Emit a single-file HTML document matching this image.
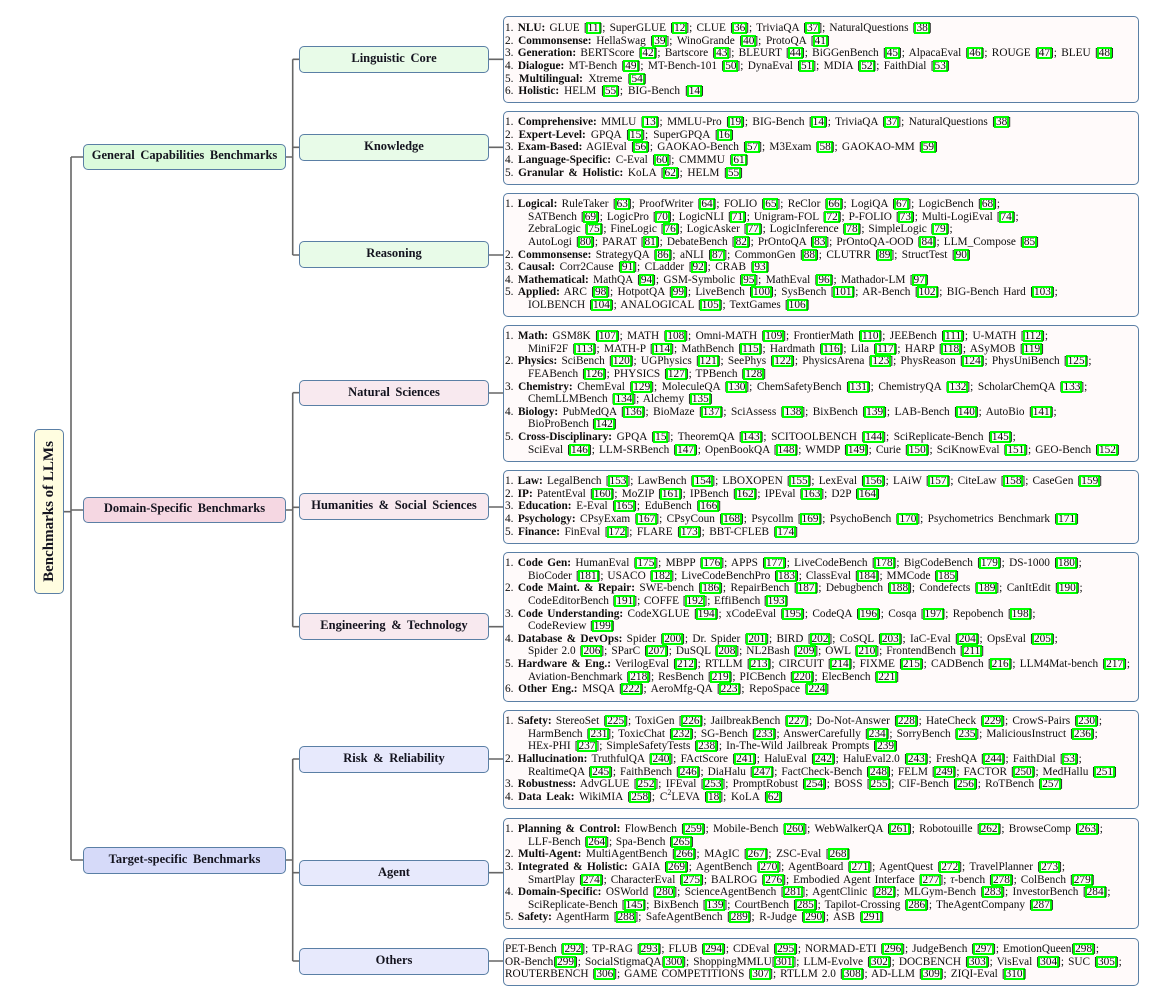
<!DOCTYPE html>
<html><head><meta charset="utf-8"><title>Benchmarks of LLMs</title>
<style>
html,body{margin:0;padding:0;background:#fff;width:1167px;height:1006px;overflow:hidden}
#w{position:relative;width:1167px;height:1006px;font-family:"Liberation Serif","DejaVu Serif",serif;color:#0c0c0c;filter:blur(.35px)}
.n{position:absolute;box-sizing:border-box;border:1.6px solid #5a7fa5;border-radius:5px;display:flex;align-items:center;justify-content:center;font-weight:bold;font-size:12.5px;word-spacing:2.5px;color:#14141f;padding-bottom:2px}
.a{left:83px;width:203px}.b{left:299px;width:190px}
.g1{background:#dbfbdc}.g2{background:#e8fbe8}.p1{background:#f5d7e2}.p2{background:#f8e9ef}.v1{background:#d6daf9}.v2{background:#e7e9fc}
.x{position:absolute;left:502.5px;width:636.5px;box-sizing:border-box;border:1.6px solid #5a7fa5;border-radius:5px;background:#fffafa}
.t{position:absolute;left:505px;font-size:11.3px}
p{margin:0;height:12.65px;line-height:12.65px;white-space:nowrap;text-align:justify;text-align-last:justify}
p.c{margin-left:23px}
u{text-decoration:none;display:inline-block;height:8px;line-height:8px;outline:2px solid #0f0;outline-offset:.7px}
sup{font-size:8px;line-height:0}
svg{position:absolute;left:0;top:0}
</style></head><body><div id="w">
<svg width="1167" height="1006" fill="none" stroke="#666" stroke-width="1.6">
<path d="M64 511.7H71M71 157V860M71 157H83M71 510H83M71 860H83"/>
<path d="M286 157H292.7M292.7 59.3V255M292.7 59.3H299M292.7 147.3H299M292.7 255H299"/>
<path d="M286 510H292.7M292.7 392.7V626.7M292.7 392.7H299M292.7 507.3H299M292.7 626.7H299"/>
<path d="M286 860H292.7M292.7 759V961M292.7 759H299M292.7 872.7H299M292.7 961H299"/>
<path d="M489 59.3H503M489 147.3H503M489 255H503M489 393H503M489 507H503M489 626.7H503M489 759H503M489 872.7H503M489 961H503"/>
</svg>

<div class="n" style="left:34px;top:429px;width:30px;height:165px;background:#fffde0;padding:0"><span style="transform:rotate(-90deg);white-space:nowrap;font-size:15px;word-spacing:0">Benchmarks of LLMs</span></div>

<div class="n a g1" style="top:143.7px;height:26.6px">General Capabilities Benchmarks</div>
<div class="n a p1" style="top:496.7px;height:26.6px">Domain-Specific Benchmarks</div>
<div class="n a v1" style="top:846.7px;height:27px">Target-specific Benchmarks</div>

<div class="n b g2" style="top:45.7px;height:27px">Linguistic Core</div>
<div class="n b g2" style="top:134px;height:26.7px">Knowledge</div>
<div class="n b g2" style="top:241px;height:27px">Reasoning</div>
<div class="n b p2" style="top:379.7px;height:26.7px">Natural Sciences</div>
<div class="n b p2" style="top:493.3px;height:26.7px">Humanities &amp; Social Sciences</div>
<div class="n b p2" style="top:613px;height:26.5px">Engineering &amp; Technology</div>
<div class="n b v2" style="top:745.7px;height:27px">Risk &amp; Reliability</div>
<div class="n b v2" style="top:859.7px;height:26.7px">Agent</div>
<div class="n b v2" style="top:948px;height:26.7px">Others</div>

<div class="x" style="top:16px;height:86.5px"></div>
<div class="x" style="top:111px;height:73.5px"></div>
<div class="x" style="top:193px;height:124px"></div>
<div class="x" style="top:325px;height:137px"></div>
<div class="x" style="top:470px;height:74px"></div>
<div class="x" style="top:552px;height:150px"></div>
<div class="x" style="top:710px;height:99px"></div>
<div class="x" style="top:818px;height:111px"></div>
<div class="x" style="top:938px;height:48px"></div>

<div class="t" style="top:22px">
<p style="width:426.5px">1. <b>NLU:</b> GLUE [<u>11</u>]; SuperGLUE [<u>12</u>]; CLUE [<u>36</u>]; TriviaQA [<u>37</u>]; NaturalQuestions [<u>38</u>]</p>
<p style="width:324.6px">2. <b>Commonsense:</b> HellaSwag [<u>39</u>]; WinoGrande [<u>40</u>]; ProtoQA [<u>41</u>]</p>
<p style="width:608.8px">3. <b>Generation:</b> BERTScore [<u>42</u>]; Bartscore [<u>43</u>]; BLEURT [<u>44</u>]; BiGGenBench [<u>45</u>]; AlpacaEval [<u>46</u>]; ROUGE [<u>47</u>]; BLEU [<u>48</u>]</p>
<p style="width:444.6px">4. <b>Dialogue:</b> MT-Bench [<u>49</u>]; MT-Bench-101 [<u>50</u>]; DynaEval [<u>51</u>]; MDIA [<u>52</u>]; FaithDial [<u>53</u>]</p>
<p style="width:141.5px">5. <b>Multilingual:</b> Xtreme [<u>54</u>]</p>
<p style="width:198.8px">6. <b>Holistic:</b> HELM [<u>55</u>]; BIG-Bench [<u>14</u>]</p>
</div>

<div class="t" style="top:116px">
<p style="width:506px">1. <b>Comprehensive:</b> MMLU [<u>13</u>]; MMLU-Pro [<u>19</u>]; BIG-Bench [<u>14</u>]; TriviaQA [<u>37</u>]; NaturalQuestions [<u>38</u>]</p>
<p style="width:228.7px">2. <b>Expert-Level:</b> GPQA [<u>15</u>]; SuperGPQA [<u>16</u>]</p>
<p style="width:432.8px">3. <b>Exam-Based:</b> AGIEval [<u>56</u>]; GAOKAO-Bench [<u>57</u>]; M3Exam [<u>58</u>]; GAOKAO-MM [<u>59</u>]</p>
<p style="width:243.4px">4. <b>Language-Specific:</b> C-Eval [<u>60</u>]; CMMMU [<u>61</u>]</p>
<p style="width:237.9px">5. <b>Granular &amp; Holistic:</b> KoLA [<u>62</u>]; HELM [<u>55</u>]</p>
</div>

<div class="t" style="top:198px">
<p style="width:495px">1. <b>Logical:</b> RuleTaker [<u>63</u>]; ProofWriter [<u>64</u>]; FOLIO [<u>65</u>]; ReClor [<u>66</u>]; LogiQA [<u>67</u>]; LogicBench [<u>68</u>];</p>
<p class="c" style="width:490.7px">SATBench [<u>69</u>]; LogicPro [<u>70</u>]; LogicNLI [<u>71</u>]; Unigram-FOL [<u>72</u>]; P-FOLIO [<u>73</u>]; Multi-LogiEval [<u>74</u>];</p>
<p class="c" style="width:424.6px">ZebraLogic [<u>75</u>]; FineLogic [<u>76</u>]; LogicAsker [<u>77</u>]; LogicInference [<u>78</u>]; SimpleLogic [<u>79</u>];</p>
<p class="c" style="width:510.9px">AutoLogi [<u>80</u>]; PARAT [<u>81</u>]; DebateBench [<u>82</u>]; PrOntoQA [<u>83</u>]; PrOntoQA-OOD [<u>84</u>]; LLM_Compose [<u>85</u>]</p>
<p style="width:465.7px">2. <b>Commonsense:</b> StrategyQA [<u>86</u>]; aNLI [<u>87</u>]; CommonGen [<u>88</u>]; CLUTRR [<u>89</u>]; StructTest [<u>90</u>]</p>
<p style="width:264.4px">3. <b>Causal:</b> Corr2Cause [<u>91</u>]; CLadder [<u>92</u>]; CRAB [<u>93</u>]</p>
<p style="width:423.6px">4. <b>Mathematical:</b> MathQA [<u>94</u>]; GSM-Symbolic [<u>95</u>]; MathEval [<u>96</u>]; Mathador-LM [<u>97</u>]</p>
<p style="width:552.8px">5. <b>Applied:</b> ARC [<u>98</u>]; HotpotQA [<u>99</u>]; LiveBench [<u>100</u>]; SysBench [<u>101</u>]; AR-Bench [<u>102</u>]; BIG-Bench Hard [<u>103</u>];</p>
<p class="c" style="width:281.4px">IOLBENCH [<u>104</u>]; ANALOGICAL [<u>105</u>]; TextGames [<u>106</u>]</p>
</div>

<div class="t" style="top:330px">
<p style="width:543px">1. <b>Math:</b> GSM8K [<u>107</u>]; MATH [<u>108</u>]; Omni-MATH [<u>109</u>]; FrontierMath [<u>110</u>]; JEEBench [<u>111</u>]; U-MATH [<u>112</u>];</p>
<p class="c" style="width:515.9px">MiniF2F [<u>113</u>]; MATH-P [<u>114</u>]; MathBench [<u>115</u>]; Hardmath [<u>116</u>]; Lila [<u>117</u>]; HARP [<u>118</u>]; ASyMOB [<u>119</u>]</p>
<p style="width:586.5px">2. <b>Physics:</b> SciBench [<u>120</u>]; UGPhysics [<u>121</u>]; SeePhys [<u>122</u>]; PhysicsArena [<u>123</u>]; PhysReason [<u>124</u>]; PhysUniBench [<u>125</u>];</p>
<p class="c" style="width:238px">FEABench [<u>126</u>]; PHYSICS [<u>127</u>]; TPBench [<u>128</u>]</p>
<p style="width:582.3px">3. <b>Chemistry:</b> ChemEval [<u>129</u>]; MoleculeQA [<u>130</u>]; ChemSafetyBench [<u>131</u>]; ChemistryQA [<u>132</u>]; ScholarChemQA [<u>133</u>];</p>
<p class="c" style="width:184.6px">ChemLLMBench [<u>134</u>]; Alchemy [<u>135</u>]</p>
<p style="width:551.6px">4. <b>Biology:</b> PubMedQA [<u>136</u>]; BioMaze [<u>137</u>]; SciAssess [<u>138</u>]; BixBench [<u>139</u>]; LAB-Bench [<u>140</u>]; AutoBio [<u>141</u>];</p>
<p class="c" style="width:88.6px">BioProBench [<u>142</u>]</p>
<p style="width:510.7px">5. <b>Cross-Disciplinary:</b> GPQA [<u>15</u>]; TheoremQA [<u>143</u>]; SCITOOLBENCH [<u>144</u>]; SciReplicate-Bench [<u>145</u>];</p>
<p class="c" style="width:591.7px">SciEval [<u>146</u>]; LLM-SRBench [<u>147</u>]; OpenBookQA [<u>148</u>]; WMDP [<u>149</u>]; Curie [<u>150</u>]; SciKnowEval [<u>151</u>]; GEO-Bench [<u>152</u>]</p>
</div>

<div class="t" style="top:475px">
<p style="width:597px">1. <b>Law:</b> LegalBench [<u>153</u>]; LawBench [<u>154</u>]; LBOXOPEN [<u>155</u>]; LexEval [<u>156</u>]; LAiW [<u>157</u>]; CiteLaw [<u>158</u>]; CaseGen [<u>159</u>]</p>
<p style="width:374.7px">2. <b>IP:</b> PatentEval [<u>160</u>]; MoZIP [<u>161</u>]; IPBench [<u>162</u>]; IPEval [<u>163</u>]; D2P [<u>164</u>]</p>
<p style="width:216px">3. <b>Education:</b> E-Eval [<u>165</u>]; EduBench [<u>166</u>]</p>
<p style="width:573.9px">4. <b>Psychology:</b> CPsyExam [<u>167</u>]; CPsyCoun [<u>168</u>]; Psycollm [<u>169</u>]; PsychoBench [<u>170</u>]; Psychometrics Benchmark [<u>171</u>]</p>
<p style="width:293px">5. <b>Finance:</b> FinEval [<u>172</u>]; FLARE [<u>173</u>]; BBT-CFLEB [<u>174</u>]</p>
</div>

<div class="t" style="top:557px">
<p style="width:576.8px">1. <b>Code Gen:</b> HumanEval [<u>175</u>]; MBPP [<u>176</u>]; APPS [<u>177</u>]; LiveCodeBench [<u>178</u>]; BigCodeBench [<u>179</u>]; DS-1000 [<u>180</u>];</p>
<p class="c" style="width:430.9px">BioCoder [<u>181</u>]; USACO [<u>182</u>]; LiveCodeBenchPro [<u>183</u>]; ClassEval [<u>184</u>]; MMCode [<u>185</u>]</p>
<p style="width:577.7px">2. <b>Code Maint. &amp; Repair:</b> SWE-bench [<u>186</u>]; RepairBench [<u>187</u>]; Debugbench [<u>188</u>]; Condefects [<u>189</u>]; CanItEdit [<u>190</u>];</p>
<p class="c" style="width:260.4px">CodeEditorBench [<u>191</u>]; COFFE [<u>192</u>]; EffiBench [<u>193</u>]</p>
<p style="width:530.5px">3. <b>Code Understanding:</b> CodeXGLUE [<u>194</u>]; xCodeEval [<u>195</u>]; CodeQA [<u>196</u>]; Cosqa [<u>197</u>]; Repobench [<u>198</u>];</p>
<p class="c" style="width:86.5px">CodeReview [<u>199</u>]</p>
<p style="width:552.8px">4. <b>Database &amp; DevOps:</b> Spider [<u>200</u>]; Dr. Spider [<u>201</u>]; BIRD [<u>202</u>]; CoSQL [<u>203</u>]; IaC-Eval [<u>204</u>]; OpsEval [<u>205</u>];</p>
<p class="c" style="width:456px">Spider 2.0 [<u>206</u>]; SParC [<u>207</u>]; DuSQL [<u>208</u>]; NL2Bash [<u>209</u>]; OWL [<u>210</u>]; FrontendBench [<u>211</u>]</p>
<p style="width:625px">5. <b>Hardware &amp; Eng.:</b> VerilogEval [<u>212</u>]; RTLLM [<u>213</u>]; CIRCUIT [<u>214</u>]; FIXME [<u>215</u>]; CADBench [<u>216</u>]; LLM4Mat-bench [<u>217</u>];</p>
<p class="c" style="width:371px">Aviation-Benchmark [<u>218</u>]; ResBench [<u>219</u>]; PICBench [<u>220</u>]; ElecBench [<u>221</u>]</p>
<p style="width:324.2px">6. <b>Other Eng.:</b> MSQA [<u>222</u>]; AeroMfg-QA [<u>223</u>]; RepoSpace [<u>224</u>]</p>
</div>

<div class="t" style="top:715px">
<p style="width:597px">1. <b>Safety:</b> StereoSet [<u>225</u>]; ToxiGen [<u>226</u>]; JailbreakBench [<u>227</u>]; Do-Not-Answer [<u>228</u>]; HateCheck [<u>229</u>]; CrowS-Pairs [<u>230</u>];</p>
<p class="c" style="width:569.8px">HarmBench [<u>231</u>]; ToxicChat [<u>232</u>]; SG-Bench [<u>233</u>]; AnswerCarefully [<u>234</u>]; SorryBench [<u>235</u>]; MaliciousInstruct [<u>236</u>];</p>
<p class="c" style="width:369.8px">HEx-PHI [<u>237</u>]; SimpleSafetyTests [<u>238</u>]; In-The-Wild Jailbreak Prompts [<u>239</u>]</p>
<p style="width:576.8px">2. <b>Hallucination:</b> TruthfulQA [<u>240</u>]; FActScore [<u>241</u>]; HaluEval [<u>242</u>]; HaluEval2.0 [<u>243</u>]; FreshQA [<u>244</u>]; FaithDial [<u>53</u>];</p>
<p class="c" style="width:588.8px">RealtimeQA [<u>245</u>]; FaithBench [<u>246</u>]; DiaHalu [<u>247</u>]; FactCheck-Bench [<u>248</u>]; FELM [<u>249</u>]; FACTOR [<u>250</u>]; MedHallu [<u>251</u>]</p>
<p style="width:557.9px">3. <b>Robustness:</b> AdvGLUE [<u>252</u>]; IFEval [<u>253</u>]; PromptRobust [<u>254</u>]; BOSS [<u>255</u>]; CIF-Bench [<u>256</u>]; RoTBench [<u>257</u>]</p>
<p style="width:277.9px">4. <b>Data Leak:</b> WikiMIA [<u>258</u>]; C<sup>2</sup>LEVA [<u>18</u>]; KoLA [<u>62</u>]</p>
</div>

<div class="t" style="top:823px">
<p style="width:597.9px">1. <b>Planning &amp; Control:</b> FlowBench [<u>259</u>]; Mobile-Bench [<u>260</u>]; WebWalkerQA [<u>261</u>]; Robotouille [<u>262</u>]; BrowseComp [<u>263</u>];</p>
<p class="c" style="width:165.7px">LLF-Bench [<u>264</u>]; Spa-Bench [<u>265</u>]</p>
<p style="width:345.3px">2. <b>Multi-Agent:</b> MultiAgentBench [<u>266</u>]; MAgIC [<u>267</u>]; ZSC-Eval [<u>268</u>]</p>
<p style="width:560px">3. <b>Integrated &amp; Holistic:</b> GAIA [<u>269</u>]; AgentBench [<u>270</u>]; AgentBoard [<u>271</u>]; AgentQuest [<u>272</u>]; TravelPlanner [<u>273</u>];</p>
<p class="c" style="width:566.5px">SmartPlay [<u>274</u>]; CharacterEval [<u>275</u>]; BALROG [<u>276</u>]; Embodied Agent Interface [<u>277</u>]; <i>τ</i>-bench [<u>278</u>]; ColBench [<u>279</u>]</p>
<p style="width:605.5px">4. <b>Domain-Specific:</b> OSWorld [<u>280</u>]; ScienceAgentBench [<u>281</u>]; AgentClinic [<u>282</u>]; MLGym-Bench [<u>283</u>]; InvestorBench [<u>284</u>];</p>
<p class="c" style="width:525.6px">SciReplicate-Bench [<u>145</u>]; BixBench [<u>139</u>]; CourtBench [<u>285</u>]; Tapilot-Crossing [<u>286</u>]; TheAgentCompany [<u>287</u>]</p>
<p style="width:379px">5. <b>Safety:</b> AgentHarm [<u>288</u>]; SafeAgentBench [<u>289</u>]; R-Judge [<u>290</u>]; ASB [<u>291</u>]</p>
</div>

<div class="t" style="top:943px">
<p style="width:594px">PET-Bench [<u>292</u>]; TP-RAG [<u>293</u>]; FLUB [<u>294</u>]; CDEval [<u>295</u>]; NORMAD-ETI [<u>296</u>]; JudgeBench [<u>297</u>]; EmotionQueen[<u>298</u>];</p>
<p style="width:616.8px">OR-Bench[<u>299</u>]; SocialStigmaQA[<u>300</u>]; ShoppingMMLU[<u>301</u>]; LLM-Evolve [<u>302</u>]; DOCBENCH [<u>303</u>]; VisEval [<u>304</u>]; SUC [<u>305</u>];</p>
<p style="width:521.3px">ROUTERBENCH [<u>306</u>]; GAME COMPETITIONS [<u>307</u>]; RTLLM 2.0 [<u>308</u>]; AD-LLM [<u>309</u>]; ZIQI-Eval [<u>310</u>]</p>
</div>
</div></body></html>
